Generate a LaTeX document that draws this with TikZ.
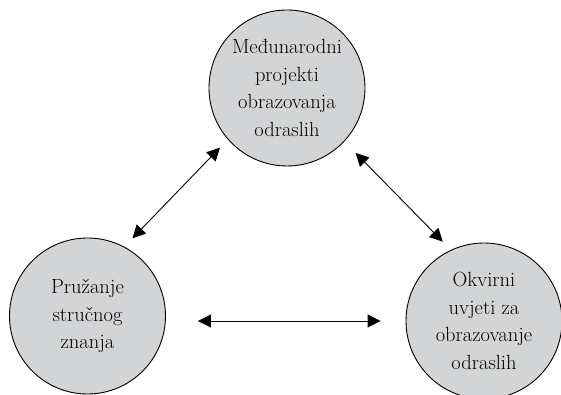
\documentclass[tikz,border=0pt]{standalone}
\usepackage{fontspec}
\usetikzlibrary{arrows.meta}
\definecolor{krugsiva}{RGB}{211,212,214}
\begin{document}
\begin{tikzpicture}[x=1pt,y=1pt,
  krug/.style={circle, fill=krugsiva, draw=black, line width=0.9pt, minimum size=156pt, inner sep=0pt, align=center, font=\fontsize{20.5}{27.5}\selectfont},
  dvosmjer/.style={{Triangle[length=13pt,width=13pt]}-{Triangle[length=13pt,width=13pt]}, line width=0.9pt}]
\useasboundingbox (0,0) rectangle (561,395);
\node[krug] (projekti) at (287,307) {Međunarodni\\projekti\\obrazovanja\\odraslih};
\node[krug] (znanje) at (87.5,79) {Pružanje\\stručnog\\znanja};
\node[krug] (uvjeti) at (484,74) {Okvirni\\uvjeti za\\obrazovanje\\odraslih};
\draw[dvosmjer, shorten <=11.7pt, shorten >=11.3pt] (znanje.62) -- (projekti.221);
\draw[dvosmjer, shorten <=16pt, shorten >=11.5pt] (projekti.317) -- (uvjeti.115);
\draw[dvosmjer, shorten <=32pt, shorten >=25pt] (znanje.east |- uvjeti.center) -- (uvjeti.west);
\end{tikzpicture}
\end{document}
